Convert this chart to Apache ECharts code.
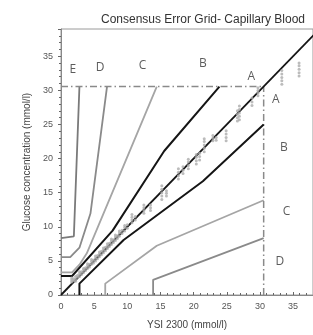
<!DOCTYPE html>
<html>
<head>
<meta charset="utf-8">
<script src="https://cdn.jsdelivr.net/npm/echarts@6/dist/echarts.min.js"></script>
<style>html,body{margin:0;padding:0;background:#fff}#c{width:313px;height:335px}</style>
</head>
<body>
<div id="c"></div>
<script>
// Zone boundaries (mmol/l) — Consensus (Parkes) error grid
var aUpper = [[0,2.78],[1.67,2.78],[7.78,9.44],[15.56,21.11],[23.89,30.56]];
var aLower = [[2.78,0],[2.78,1.67],[9.44,8.06],[21.39,16.67],[30.56,25]];
var bUpper = [[0,3.33],[1.67,3.33],[2.78,4.44],[3.89,6.11],[14.44,30.56]];
var bLower = [[6.67,0],[6.67,1.67],[14.44,7.22],[30.56,13.89]];
var cUpper = [[0,5.56],[1.39,5.56],[2.78,6.94],[4.44,11.94],[6.94,30.56]];
var cLower = [[13.89,0],[13.89,2.22],[30.56,8.33]];
var dUpper = [[0,8.33],[1.94,8.61],[2.78,30.56]];
var identityLine = [[0,0],[39,39]];
var boxTop = [[0,30.56],[30.56,30.56]];
var boxRight = [[30.56,0],[30.56,30.56]];

// Measurements: YSI reference value and meter readings at that value
var ysi = [1.6,1.9,2.2,2.5,2.8,3.1,3.4,3.7,4.0,4.3,4.6,4.9,5.2,5.5,5.8,6.1,6.4,6.7,7.0,7.3,7.6,7.9,8.2,8.5,8.8,9.2,9.6,10.0,10.7,11.2,12.5,13.5,15.2,15.9,17.7,18.4,19.2,20.4,20.9,21.6,22.9,23.4,24.9,26.6,26.9,28.8,29.7,33.3,35.9];
var meter = [
  [1.9,2.2,2.5],[2.1,2.4],[2.0,2.3,2.7],[2.6,2.9],[2.7,3.1,3.4],[3.0,3.4],[3.3,3.7,3.9],[3.6,4.0],
  [3.9,4.3,4.6],[4.1,4.5],[4.5,4.9,5.2],[4.7,5.1],[5.0,5.4,5.7],[5.3,5.8],[5.6,6.0,6.3],[5.9,6.4],
  [6.2,6.6,6.9],[6.5,7.0],[6.8,7.2,7.5],[7.1,7.6],[7.4,7.9,8.2],[7.7,8.1],[8.0,8.5,8.8],[8.3,8.7],
  [8.6,9.1,9.4],[9.0,9.5],[9.4,9.9,10.2],[9.8,10.3],[10.6,11.0,11.4,11.8],[11.0,11.5],
  [12.0,12.4,12.8,13.2],[12.4,12.8,13.2],[14.0,14.5,15.0,15.5,16.0],[14.5,14.9,15.3],
  [17.0,17.5,18.0,18.5],[17.8,18.3,18.8],[18.5,19.0,19.5,19.9],[19.2,19.7,20.2,20.6],[19.8,20.3,20.8],
  [21.0,21.5,22.0,22.5,22.9],[22.6,23.0,23.4],[22.7,23.1],[22.6,23.1,23.6,24.1],
  [25.5,26.0,26.5,27.0],[25.7,26.2,26.7,27.2,27.7],[27.8,28.3,28.9],[29.2,29.6,30.0,30.4],
  [30.9,31.4,31.9,32.4,32.9],[32.1,32.6,33.1,33.6,34.0]
];

// Zone labels
var labelText = ['E','D','C','B','A','A','B','C','D'];
var labelX = [1.8,5.9,12.3,21.4,28.7,32.4,33.6,34.0,33.0];
var labelY = [33.0,33.3,33.7,34.0,32.0,28.7,21.6,12.3,4.9];

var xTicks = [0,5,10,15,20,25,30,35];
var yTicks = [0,5,10,15,20,25,30,35];

var points = [];
ysi.forEach(function(x,i){ meter[i].forEach(function(y){ points.push([x,y]); }); });
var labelData = labelText.map(function(t,i){ return {value:[labelX[i],labelY[i]], name:t}; });

function lineSeries(data, color, width, type, z){
  return {type:'line', data:data, symbol:'none', silent:true, animation:false, z:z||2,
    lineStyle:{color:color, width:width, type:type||'solid', cap:'butt'}, clip:true};
}

var chart = echarts.init(document.getElementById('c'), null, {renderer:'canvas'});
chart.setOption({
  animation:false,
  title:{text:'Consensus Error Grid- Capillary Blood', left:198, textAlign:'center', top:9,
    textStyle:{fontFamily:'Liberation Sans, Arial', fontSize:12, fontWeight:'normal', color:'#333'}},
  grid:{left:61, right:-4, top:29, bottom:34, show:true, borderColor:'#9a9a9a', borderWidth:1},
  xAxis:{type:'value', min:0, max:38, interval:5,
    name:'YSI 2300 (mmol/l)', nameLocation:'middle', nameGap:25,
    nameTextStyle:{fontFamily:'Liberation Sans, Arial', fontSize:10, color:'#444'},
    axisLine:{lineStyle:{color:'#888', width:1}},
    axisTick:{show:true, inside:true, length:3, lineStyle:{color:'#666'}},
    minorTick:{show:true, splitNumber:5, length:2, lineStyle:{color:'#666'}},
    axisLabel:{fontFamily:'Liberation Sans, Arial', fontSize:9, color:'#555', margin:7, showMaxLabel:false,
      formatter:function(v){ return xTicks.indexOf(v)>=0 ? String(v) : ''; }},
    splitLine:{show:false}},
  yAxis:{type:'value', min:0, max:39, interval:5,
    name:'Glucose concentration (mmol/l)', nameLocation:'middle', nameGap:28, nameRotate:90,
    nameTextStyle:{fontFamily:'Liberation Sans, Arial', fontSize:10, color:'#444'},
    axisLine:{show:true, lineStyle:{color:'#888', width:1}},
    axisTick:{show:true, length:3, lineStyle:{color:'#666'}},
    minorTick:{show:true, splitNumber:5, length:2, lineStyle:{color:'#666'}},
    axisLabel:{fontFamily:'Liberation Sans, Arial', fontSize:9, color:'#555', margin:8, showMaxLabel:false,
      formatter:function(v){ return yTicks.indexOf(v)>=0 ? String(v) : ''; }},
    splitLine:{show:false}},
  series:[
    lineSeries(dUpper,'#7a7a7a',1.8),
    lineSeries(cUpper,'#8a8a8a',1.8),
    lineSeries(cLower,'#8a8a8a',1.8),
    lineSeries(bUpper,'#a5a5a5',1.8),
    lineSeries(bLower,'#a5a5a5',1.8),
    lineSeries(boxTop,'#8a8a8a',1.5,[7,3,1.5,3]),
    lineSeries(boxRight,'#8a8a8a',1.5,[7,3,1.5,3]),
    lineSeries(aUpper,'#151515',2),
    lineSeries(aLower,'#151515',2),
    lineSeries(identityLine,'#151515',1.8),
    {type:'scatter', data:points, symbol:'circle', symbolSize:3, z:5, silent:true, animation:false,
      itemStyle:{color:'#ababab'}},
    {type:'scatter', data:labelData, symbolSize:0, z:6, silent:true, animation:false,
      label:{show:true, position:'inside', formatter:'{b}', fontFamily:'Open Sans, Liberation Sans', fontSize:12, color:'#333'}}
  ]
});
</script>
</body>
</html>
